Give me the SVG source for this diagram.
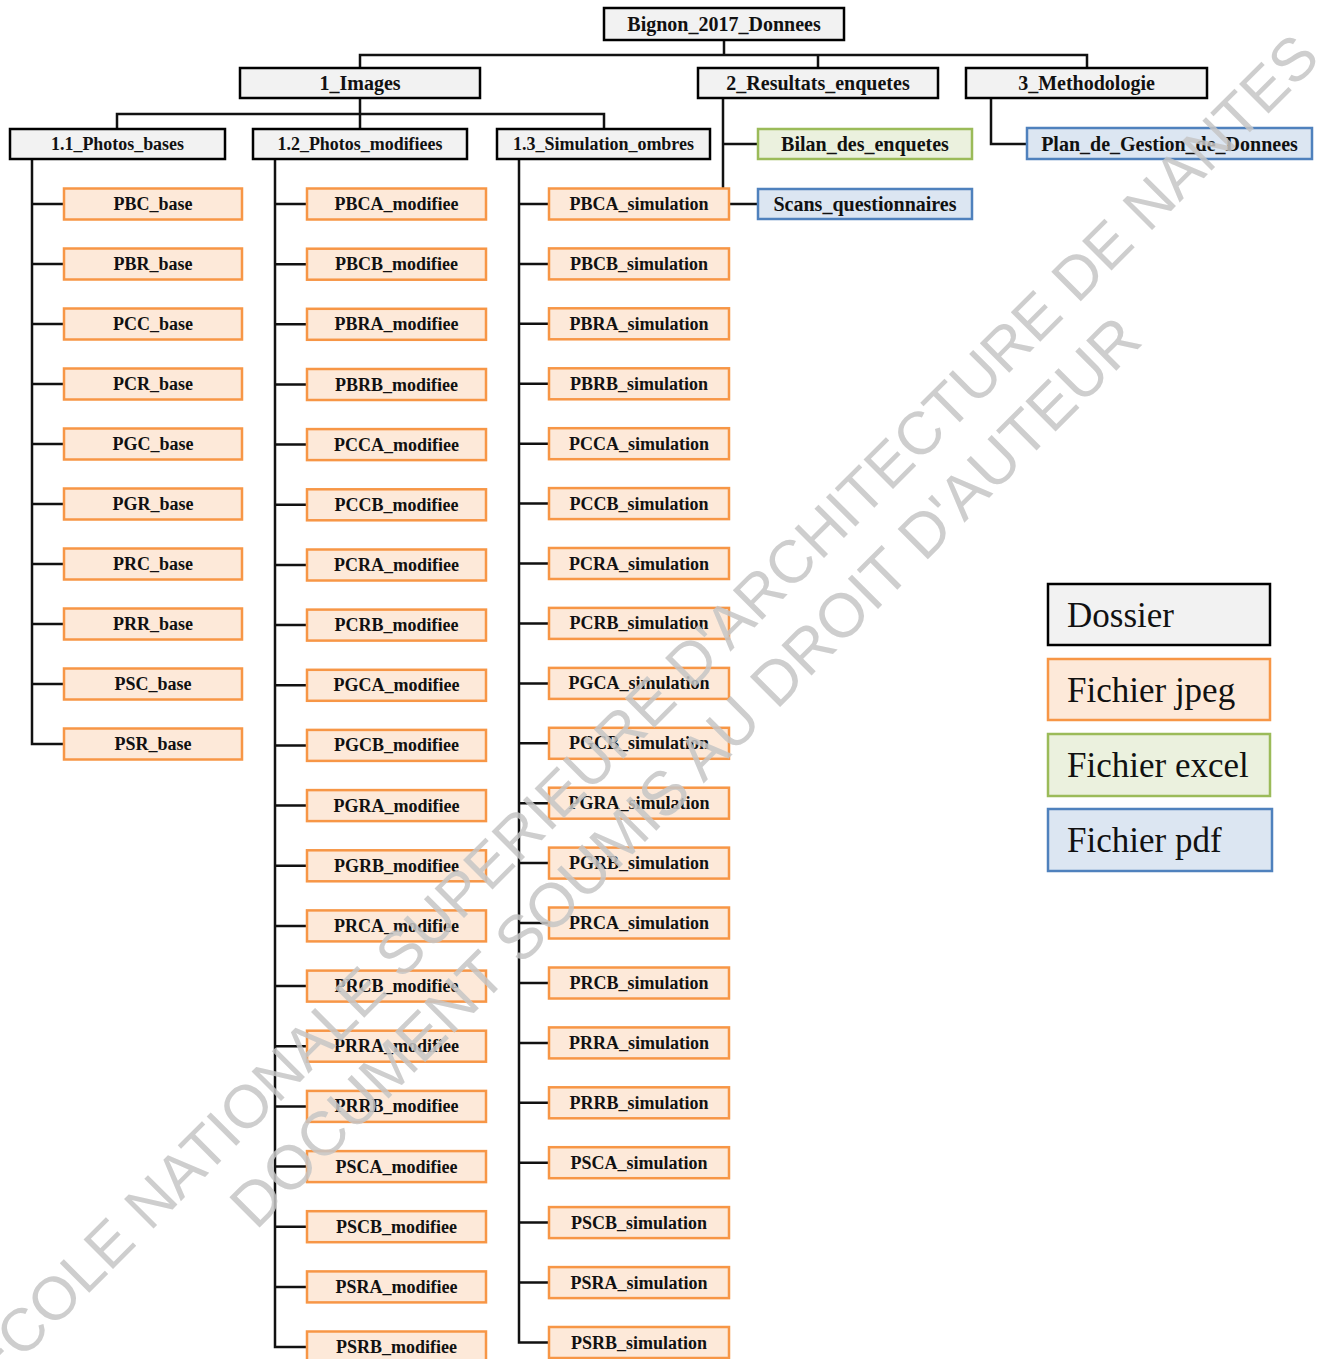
<svg xmlns="http://www.w3.org/2000/svg" width="1329" height="1359" viewBox="0 0 1329 1359">
<style>
.fold{fill:#f2f2f2;stroke:#000;stroke-width:2.5}
.jpg{fill:#fde9d9;stroke:#f79646;stroke-width:2.5}
.xls{fill:#ebf1de;stroke:#9bbb59;stroke-width:2.5}
.pdf{fill:#dce6f2;stroke:#4f81bd;stroke-width:2.5}
text{font-family:"Liberation Serif","Times New Roman",serif;fill:#111}
.t{font-weight:bold;text-anchor:middle}
.t20{font-size:20px}
.t18{font-size:18px}
.leg{font-size:35px}
.wm{font-family:"Liberation Sans",Arial,sans-serif;fill:#c6c6c6}
.con{fill:none;stroke:#111;stroke-width:2.5}
</style>
<rect width="1329" height="1359" fill="#fff"/>
<g id="connectors" class="con">
<path d="M724 40V55M360 68V55H1087V68M818 55V68"/>
<path d="M360 98V114M117 129V114H604V129M360 114V129"/>
<path d="M32 159V744H64M32 204H64M32 264H64M32 324H64M32 384H64M32 444H64M32 504H64M32 564H64M32 624H64M32 684H64"/>
<path d="M275 159V1347H307M275 204H307M275 264.2H307M275 324.3H307M275 384.5H307M275 444.6H307M275 504.8H307M275 565H307M275 625.1H307M275 685.3H307M275 745.4H307M275 805.6H307M275 865.8H307M275 925.9H307M275 986.1H307M275 1046.2H307M275 1106.4H307M275 1166.6H307M275 1226.7H307M275 1286.9H307"/>
<path d="M519 159V1342.5H549M519 204H549M519 263.9H549M519 323.8H549M519 383.8H549M519 443.7H549M519 503.6H549M519 563.5H549M519 623.4H549M519 683.4H549M519 743.3H549M519 803.2H549M519 863.1H549M519 923H549M519 983H549M519 1042.9H549M519 1102.8H549M519 1162.7H549M519 1222.6H549M519 1282.6H549"/>
<path d="M723 98V204H758M723 144H758"/>
<path d="M991 98V144H1027"/>
</g>
<g id="root"><rect class="fold" x="604" y="8" width="240" height="32"/><text class="t t20" x="724" y="31">Bignon_2017_Donnees</text></g>
<g id="images"><rect class="fold" x="240" y="68" width="240" height="30"/><text class="t t20" x="360" y="90">1_Images</text></g>
<g id="resultats"><rect class="fold" x="698" y="68" width="240" height="30"/><text class="t t20" x="818" y="90">2_Resultats_enquetes</text></g>
<g id="methodologie"><rect class="fold" x="966" y="68" width="241" height="30"/><text class="t t20" x="1086.5" y="90">3_Methodologie</text></g>
<g id="photos_bases"><rect class="fold" x="10" y="129" width="215" height="30"/><text class="t t18" x="117.5" y="150" textLength="133" lengthAdjust="spacingAndGlyphs">1.1_Photos_bases</text></g>
<g id="photos_modifiees"><rect class="fold" x="253" y="129" width="214" height="30"/><text class="t t18" x="360" y="150" textLength="165" lengthAdjust="spacingAndGlyphs">1.2_Photos_modifiees</text></g>
<g id="simulation_ombres"><rect class="fold" x="497" y="129" width="213" height="30"/><text class="t t18" x="603.5" y="150" textLength="181" lengthAdjust="spacingAndGlyphs">1.3_Simulation_ombres</text></g>
<g id="bilan"><rect class="xls" x="758" y="129" width="214" height="30"/><text class="t t20" x="865" y="151">Bilan_des_enquetes</text></g>
<g id="scans"><rect class="pdf" x="758" y="189" width="214" height="30"/><text class="t t20" x="865" y="211">Scans_questionnaires</text></g>
<g id="plan"><rect class="pdf" x="1027" y="128" width="285" height="31"/><text class="t t20" x="1169.5" y="151">Plan_de_Gestion_de_Donnees</text></g>
<g id="col_base">
<g id="PBC_base"><rect class="jpg" x="64" y="188.5" width="178" height="31"/><text class="t t18" x="153" y="210">PBC_base</text></g>
<g id="PBR_base"><rect class="jpg" x="64" y="248.5" width="178" height="31"/><text class="t t18" x="153" y="270">PBR_base</text></g>
<g id="PCC_base"><rect class="jpg" x="64" y="308.5" width="178" height="31"/><text class="t t18" x="153" y="330">PCC_base</text></g>
<g id="PCR_base"><rect class="jpg" x="64" y="368.5" width="178" height="31"/><text class="t t18" x="153" y="390">PCR_base</text></g>
<g id="PGC_base"><rect class="jpg" x="64" y="428.5" width="178" height="31"/><text class="t t18" x="153" y="450">PGC_base</text></g>
<g id="PGR_base"><rect class="jpg" x="64" y="488.5" width="178" height="31"/><text class="t t18" x="153" y="510">PGR_base</text></g>
<g id="PRC_base"><rect class="jpg" x="64" y="548.5" width="178" height="31"/><text class="t t18" x="153" y="570">PRC_base</text></g>
<g id="PRR_base"><rect class="jpg" x="64" y="608.5" width="178" height="31"/><text class="t t18" x="153" y="630">PRR_base</text></g>
<g id="PSC_base"><rect class="jpg" x="64" y="668.5" width="178" height="31"/><text class="t t18" x="153" y="690">PSC_base</text></g>
<g id="PSR_base"><rect class="jpg" x="64" y="728.5" width="178" height="31"/><text class="t t18" x="153" y="750">PSR_base</text></g>
</g>
<g id="col_modifiee">
<g id="PBCA_modifiee"><rect class="jpg" x="307" y="188.5" width="179" height="31"/><text class="t t18" x="396.5" y="210">PBCA_modifiee</text></g>
<g id="PBCB_modifiee"><rect class="jpg" x="307" y="248.7" width="179" height="31"/><text class="t t18" x="396.5" y="270.2">PBCB_modifiee</text></g>
<g id="PBRA_modifiee"><rect class="jpg" x="307" y="308.8" width="179" height="31"/><text class="t t18" x="396.5" y="330.3">PBRA_modifiee</text></g>
<g id="PBRB_modifiee"><rect class="jpg" x="307" y="369" width="179" height="31"/><text class="t t18" x="396.5" y="390.5">PBRB_modifiee</text></g>
<g id="PCCA_modifiee"><rect class="jpg" x="307" y="429.1" width="179" height="31"/><text class="t t18" x="396.5" y="450.6">PCCA_modifiee</text></g>
<g id="PCCB_modifiee"><rect class="jpg" x="307" y="489.3" width="179" height="31"/><text class="t t18" x="396.5" y="510.8">PCCB_modifiee</text></g>
<g id="PCRA_modifiee"><rect class="jpg" x="307" y="549.5" width="179" height="31"/><text class="t t18" x="396.5" y="571">PCRA_modifiee</text></g>
<g id="PCRB_modifiee"><rect class="jpg" x="307" y="609.6" width="179" height="31"/><text class="t t18" x="396.5" y="631.1">PCRB_modifiee</text></g>
<g id="PGCA_modifiee"><rect class="jpg" x="307" y="669.8" width="179" height="31"/><text class="t t18" x="396.5" y="691.3">PGCA_modifiee</text></g>
<g id="PGCB_modifiee"><rect class="jpg" x="307" y="729.9" width="179" height="31"/><text class="t t18" x="396.5" y="751.4">PGCB_modifiee</text></g>
<g id="PGRA_modifiee"><rect class="jpg" x="307" y="790.1" width="179" height="31"/><text class="t t18" x="396.5" y="811.6">PGRA_modifiee</text></g>
<g id="PGRB_modifiee"><rect class="jpg" x="307" y="850.3" width="179" height="31"/><text class="t t18" x="396.5" y="871.8">PGRB_modifiee</text></g>
<g id="PRCA_modifiee"><rect class="jpg" x="307" y="910.4" width="179" height="31"/><text class="t t18" x="396.5" y="931.9">PRCA_modifiee</text></g>
<g id="PRCB_modifiee"><rect class="jpg" x="307" y="970.6" width="179" height="31"/><text class="t t18" x="396.5" y="992.1">PRCB_modifiee</text></g>
<g id="PRRA_modifiee"><rect class="jpg" x="307" y="1030.7" width="179" height="31"/><text class="t t18" x="396.5" y="1052.2">PRRA_modifiee</text></g>
<g id="PRRB_modifiee"><rect class="jpg" x="307" y="1090.9" width="179" height="31"/><text class="t t18" x="396.5" y="1112.4">PRRB_modifiee</text></g>
<g id="PSCA_modifiee"><rect class="jpg" x="307" y="1151.1" width="179" height="31"/><text class="t t18" x="396.5" y="1172.6">PSCA_modifiee</text></g>
<g id="PSCB_modifiee"><rect class="jpg" x="307" y="1211.2" width="179" height="31"/><text class="t t18" x="396.5" y="1232.7">PSCB_modifiee</text></g>
<g id="PSRA_modifiee"><rect class="jpg" x="307" y="1271.4" width="179" height="31"/><text class="t t18" x="396.5" y="1292.9">PSRA_modifiee</text></g>
<g id="PSRB_modifiee"><rect class="jpg" x="307" y="1331.5" width="179" height="31"/><text class="t t18" x="396.5" y="1353">PSRB_modifiee</text></g>
</g>
<g id="col_simulation">
<g id="PBCA_simulation"><rect class="jpg" x="549" y="188.5" width="180" height="31"/><text class="t t18" x="639" y="210">PBCA_simulation</text></g>
<g id="PBCB_simulation"><rect class="jpg" x="549" y="248.4" width="180" height="31"/><text class="t t18" x="639" y="269.9">PBCB_simulation</text></g>
<g id="PBRA_simulation"><rect class="jpg" x="549" y="308.3" width="180" height="31"/><text class="t t18" x="639" y="329.8">PBRA_simulation</text></g>
<g id="PBRB_simulation"><rect class="jpg" x="549" y="368.3" width="180" height="31"/><text class="t t18" x="639" y="389.8">PBRB_simulation</text></g>
<g id="PCCA_simulation"><rect class="jpg" x="549" y="428.2" width="180" height="31"/><text class="t t18" x="639" y="449.7">PCCA_simulation</text></g>
<g id="PCCB_simulation"><rect class="jpg" x="549" y="488.1" width="180" height="31"/><text class="t t18" x="639" y="509.6">PCCB_simulation</text></g>
<g id="PCRA_simulation"><rect class="jpg" x="549" y="548" width="180" height="31"/><text class="t t18" x="639" y="569.5">PCRA_simulation</text></g>
<g id="PCRB_simulation"><rect class="jpg" x="549" y="607.9" width="180" height="31"/><text class="t t18" x="639" y="629.4">PCRB_simulation</text></g>
<g id="PGCA_simulation"><rect class="jpg" x="549" y="667.9" width="180" height="31"/><text class="t t18" x="639" y="689.4">PGCA_simulation</text></g>
<g id="PGCB_simulation"><rect class="jpg" x="549" y="727.8" width="180" height="31"/><text class="t t18" x="639" y="749.3">PGCB_simulation</text></g>
<g id="PGRA_simulation"><rect class="jpg" x="549" y="787.7" width="180" height="31"/><text class="t t18" x="639" y="809.2">PGRA_simulation</text></g>
<g id="PGRB_simulation"><rect class="jpg" x="549" y="847.6" width="180" height="31"/><text class="t t18" x="639" y="869.1">PGRB_simulation</text></g>
<g id="PRCA_simulation"><rect class="jpg" x="549" y="907.5" width="180" height="31"/><text class="t t18" x="639" y="929">PRCA_simulation</text></g>
<g id="PRCB_simulation"><rect class="jpg" x="549" y="967.5" width="180" height="31"/><text class="t t18" x="639" y="989">PRCB_simulation</text></g>
<g id="PRRA_simulation"><rect class="jpg" x="549" y="1027.4" width="180" height="31"/><text class="t t18" x="639" y="1048.9">PRRA_simulation</text></g>
<g id="PRRB_simulation"><rect class="jpg" x="549" y="1087.3" width="180" height="31"/><text class="t t18" x="639" y="1108.8">PRRB_simulation</text></g>
<g id="PSCA_simulation"><rect class="jpg" x="549" y="1147.2" width="180" height="31"/><text class="t t18" x="639" y="1168.7">PSCA_simulation</text></g>
<g id="PSCB_simulation"><rect class="jpg" x="549" y="1207.1" width="180" height="31"/><text class="t t18" x="639" y="1228.6">PSCB_simulation</text></g>
<g id="PSRA_simulation"><rect class="jpg" x="549" y="1267.1" width="180" height="31"/><text class="t t18" x="639" y="1288.6">PSRA_simulation</text></g>
<g id="PSRB_simulation"><rect class="jpg" x="549" y="1327" width="180" height="31"/><text class="t t18" x="639" y="1348.5">PSRB_simulation</text></g>
</g>
<g id="legend">
<g id="leg_dossier"><rect class="fold" x="1048" y="584" width="222" height="61"/><text class="leg" x="1067" y="627">Dossier</text></g>
<g id="leg_jpeg"><rect class="jpg" x="1048" y="659" width="222" height="61"/><text class="leg" x="1067" y="702">Fichier jpeg</text></g>
<g id="leg_excel"><rect class="xls" x="1048" y="734" width="222" height="62"/><text class="leg" x="1067" y="777">Fichier excel</text></g>
<g id="leg_pdf"><rect class="pdf" x="1048" y="809" width="224" height="62"/><text class="leg" x="1067" y="852">Fichier pdf</text></g>
</g>
<g id="watermark" opacity="0.85">
<text class="wm" font-size="60.5" x="-7" y="1389" transform="rotate(-45 -7 1389)">ÉCOLE NATIONALE SUPERIEURE D'ARCHITECTURE DE NANTES</text>
<text class="wm" font-size="62" x="256" y="1231" transform="rotate(-45 256 1231)">DOCUMENT SOUMIS AU DROIT D'AUTEUR</text>
</g>
</svg>
